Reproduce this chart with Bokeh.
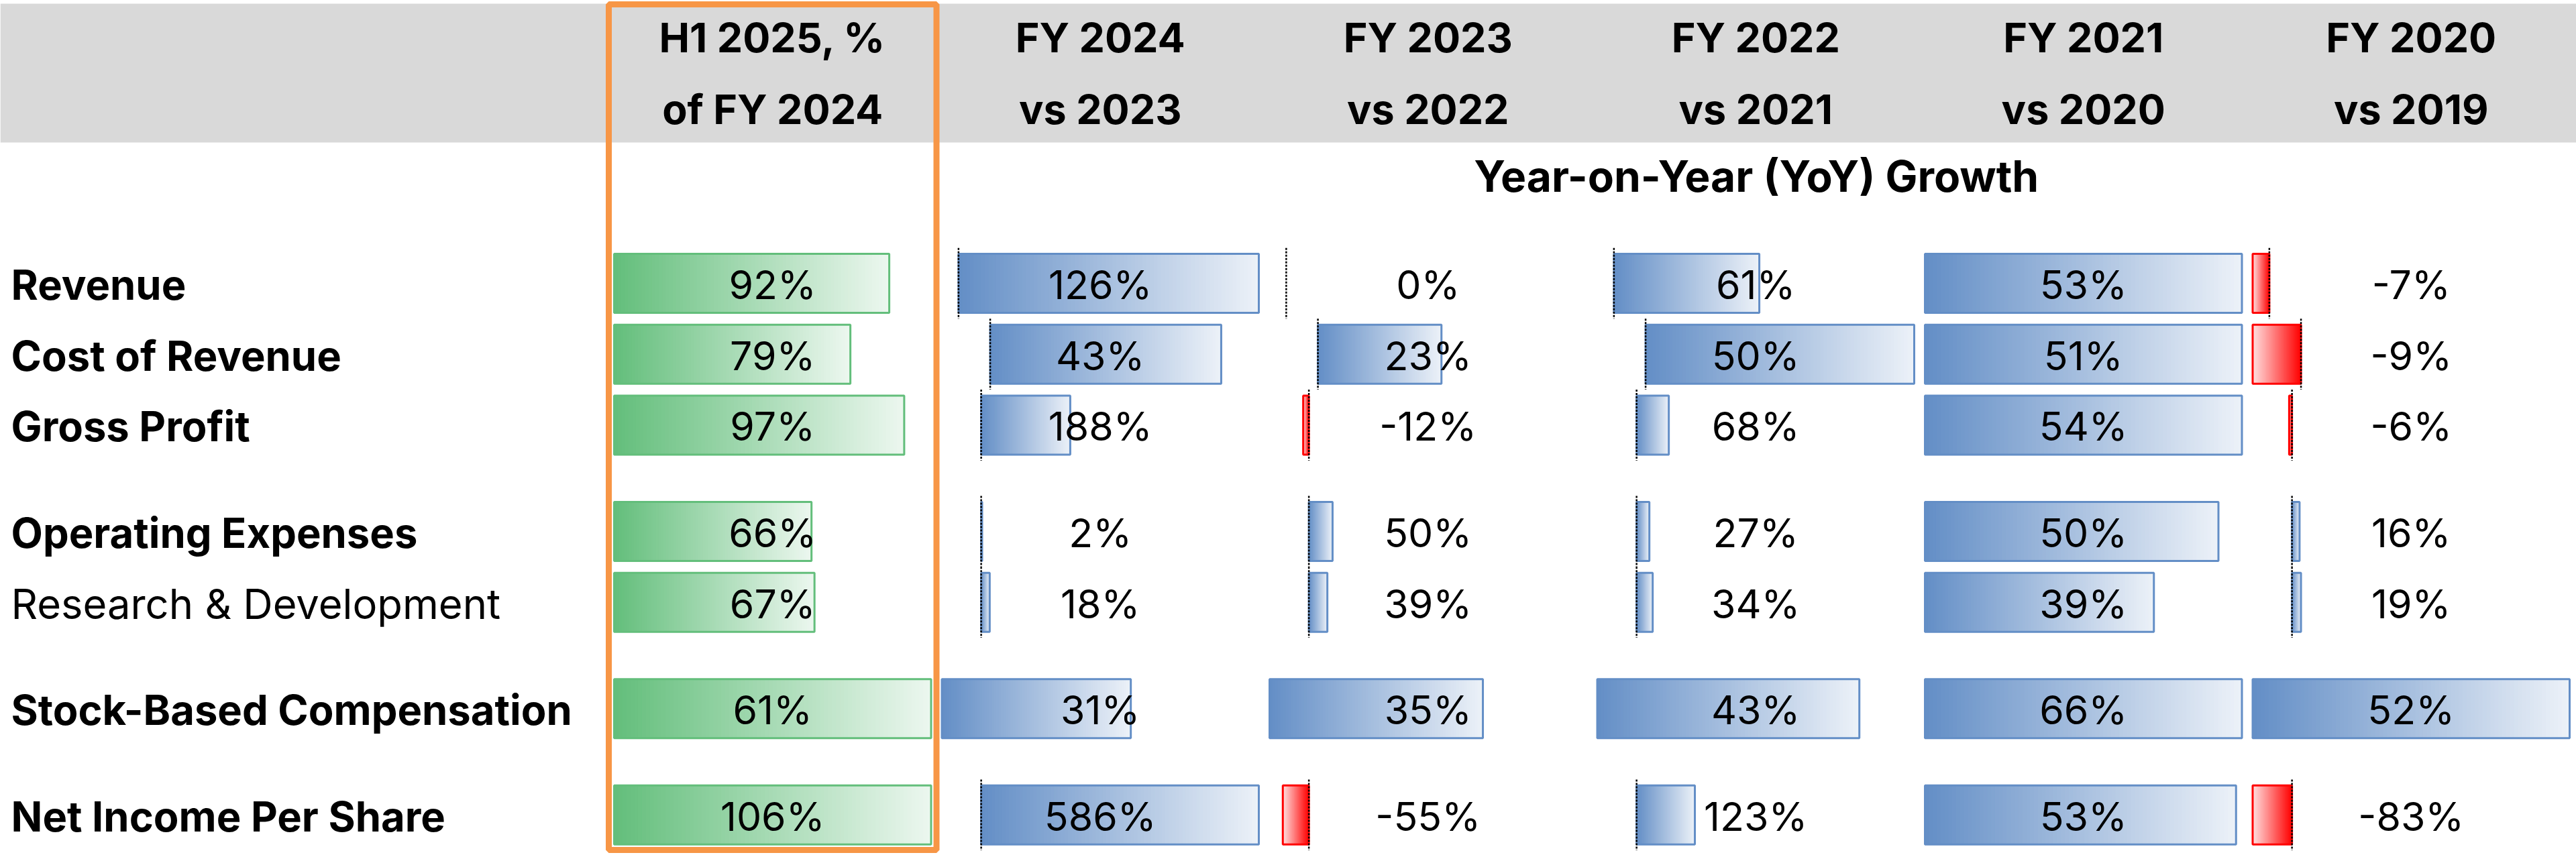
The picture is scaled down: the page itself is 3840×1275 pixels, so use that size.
import numpy as np
from bokeh.plotting import figure
from bokeh.models import Range1d, ColumnDataSource
from bokeh.core.properties import value
from bokeh.embed import file_html
from bokeh.resources import INLINE

# ---------------------------------------------------------------- data
metrics = ["Revenue", "Cost of Revenue", "Gross Profit", "Operating Expenses",
           "Research & Development", "Stock-Based Compensation", "Net Income Per Share"]
metric_bold = [True, True, True, True, False, True, True]

header_line1 = ["H1 2025, %", "FY 2024", "FY 2023", "FY 2022", "FY 2021", "FY 2020"]
header_line2 = ["of FY 2024", "vs 2023", "vs 2022", "vs 2021", "vs 2020", "vs 2019"]
yoy_title = "Year-on-Year (YoY) Growth"

h1_share = [92, 79, 97, 66, 67, 61, 106]      # H1 2025 as % of FY 2024
fy2024 = [126, 43, 188, 2, 18, 31, 586]       # YoY growth, %
fy2023 = [0, 23, -12, 50, 39, 35, -55]
fy2022 = [61, 50, 68, 27, 34, 43, 123]
fy2021 = [53, 51, 54, 50, 39, 66, 53]
fy2020 = [-7, -9, -6, 16, 19, 52, -83]

# data-bar rule ranges: cells with the same key share one min/max scale
h1_groups = ["h1", "h1", "h1", "h1", "h1", "h1_sbc", "h1"]
yoy_groups = ["rev", "cor", "core", "core", "core", "sbc", "core"]
fy2021_groups = ["rev21", "cor21", "core21", "core21", "core21", "sbc21", "core21"]

columns = [h1_share, fy2024, fy2023, fy2022, fy2021, fy2020]
column_groups = [h1_groups, yoy_groups, yoy_groups, yoy_groups, fy2021_groups, yoy_groups]

# ---------------------------------------------------------------- layout
W, H = 3840, 1275
LABEL_W = 907.0
COL_W = 488.5
PAD = 8.0
BAR_W = COL_W - 2 * PAD
ROW_H = 105.7
FIRST_ROW_Y = 422.0
BAR_H = 88.0
HALF_GAP_AFTER = {2, 4, 5}          # a half-height blank row follows these rows

FONT = value("Inter")
GREEN, BLUE, RED = "#63BE7B", "#638EC6", "#FF0000"
ORANGE = "#F79646"

row_y = []
slot = 0.0
for i in range(len(metrics)):
    row_y.append(FIRST_ROW_Y + slot * ROW_H)
    slot += 1.5 if i in HALF_GAP_AFTER else 1.0


def hex_rgb(h):
    h = h.lstrip("#")
    return np.array([int(h[k:k + 2], 16) for k in (0, 2, 4)], dtype=float)


def blend(base, t, fade=0.88):
    c = hex_rgb(base)
    c = c + (255.0 - c) * fade * t
    return "#%02x%02x%02x" % tuple(int(round(x)) for x in c)


# domain of every data-bar range
domains = {}
for vals, groups in zip(columns, column_groups):
    for v, g in zip(vals, groups):
        domains.setdefault(g, []).append(v)
domains = {g: (min(0, min(vs)), max(0, max(vs))) for g, vs in domains.items()}

N_SLICES = 80
OVERLAP = 1.5       # each gradient slice runs a little into the next one
sl = dict(left=[], right=[], top=[], bottom=[], color=[])
ol = dict(left=[], right=[], top=[], bottom=[], color=[])
ax = dict(x=[], y0=[], y1=[])
vt = dict(x=[], y=[], text=[])

for c, (vals, groups) in enumerate(zip(columns, column_groups)):
    a0 = LABEL_W + c * COL_W + PAD
    for r, (v, g) in enumerate(zip(vals, groups)):
        lo, hi = domains[g]
        span = (hi - lo) or 1.0
        x_axis = a0 + BAR_W * (0 - lo) / span
        x_tip = a0 + BAR_W * (v - lo) / span
        yc = row_y[r]
        base = GREEN if c == 0 else (BLUE if v >= 0 else RED)
        if v != 0:
            step = np.sign(x_tip - x_axis)
            xs = np.linspace(x_axis, x_tip, N_SLICES + 1)
            for k in range(N_SLICES):
                x_start = xs[k]
                x_end = xs[k + 1] + step * OVERLAP if k < N_SLICES - 1 else xs[k + 1]
                if abs(x_end - x_axis) > abs(x_tip - x_axis):
                    x_end = x_tip
                sl["left"].append(min(x_start, x_end))
                sl["right"].append(max(x_start, x_end))
                sl["top"].append(yc - BAR_H / 2)
                sl["bottom"].append(yc + BAR_H / 2)
                sl["color"].append(blend(base, (k + 0.5) / N_SLICES))
            ol["left"].append(min(x_axis, x_tip))
            ol["right"].append(max(x_axis, x_tip))
            ol["top"].append(yc - BAR_H / 2)
            ol["bottom"].append(yc + BAR_H / 2)
            ol["color"].append(base)
        if lo < 0:
            ax["x"].append(x_axis)
            ax["y0"].append(yc - ROW_H / 2)
            ax["y1"].append(yc + ROW_H / 2)
        vt["x"].append(a0 + BAR_W / 2)
        vt["y"].append(yc + 2)
        vt["text"].append(f"{v}%")

# ---------------------------------------------------------------- figure
p = figure(width=W, height=H, x_range=Range1d(0, W), y_range=Range1d(H, 0),
           output_backend="svg", toolbar_location=None, min_border=0)
p.axis.visible = False
p.grid.visible = False
p.outline_line_color = None
p.background_fill_color = "white"
p.border_fill_color = "white"

# header band
p.quad(left=[0], right=[W], top=[5], bottom=[212], fill_color="#D9D9D9", line_color=None)

p.quad(left="left", right="right", top="top", bottom="bottom", fill_color="color",
       line_color=None, source=ColumnDataSource(sl))
p.quad(left="left", right="right", top="top", bottom="bottom", fill_color=None,
       line_color="color", line_width=3, source=ColumnDataSource(ol))
p.segment(x0="x", y0="y0", x1="x", y1="y1", line_color="#000000", line_width=2.5,
          line_dash="3 2", source=ColumnDataSource(ax))

p.text(x="x", y="y", text="text", source=ColumnDataSource(vt), text_font=FONT,
       text_font_size=value("59px"), text_align="center", text_baseline="middle",
       text_color="black")

# row labels
for style, flag in (("bold", True), ("normal", False)):
    idx = [i for i, b in enumerate(metric_bold) if b == flag]
    p.text(x=[16] * len(idx), y=[row_y[i] + 2 for i in idx], text=[metrics[i] for i in idx],
           text_font=FONT, text_font_style=style, text_font_size=value("61.5px"),
           text_align="left", text_baseline="middle", text_color="black")

# column headers
centers = [LABEL_W + c * COL_W + COL_W / 2 for c in range(len(columns))]
p.text(x=centers, y=[55] * len(centers), text=header_line1, text_font=FONT,
       text_font_style="bold", text_font_size=value("61px"), text_align="center",
       text_baseline="middle", text_color="black")
p.text(x=centers, y=[162] * len(centers), text=header_line2, text_font=FONT,
       text_font_style="bold", text_font_size=value("61px"), text_align="center",
       text_baseline="middle", text_color="black")
p.text(x=[(LABEL_W + COL_W + W) / 2], y=[262], text=[yoy_title], text_font=FONT,
       text_font_style="bold", text_font_size=value("64px"), text_align="center",
       text_baseline="middle", text_color="black")

# highlight frame round the H1 column
p.quad(left=[LABEL_W], right=[LABEL_W + COL_W], top=[6], bottom=[1267], fill_color=None,
       line_color=ORANGE, line_width=9)

open("out.html", "w").write(file_html(p, INLINE))
